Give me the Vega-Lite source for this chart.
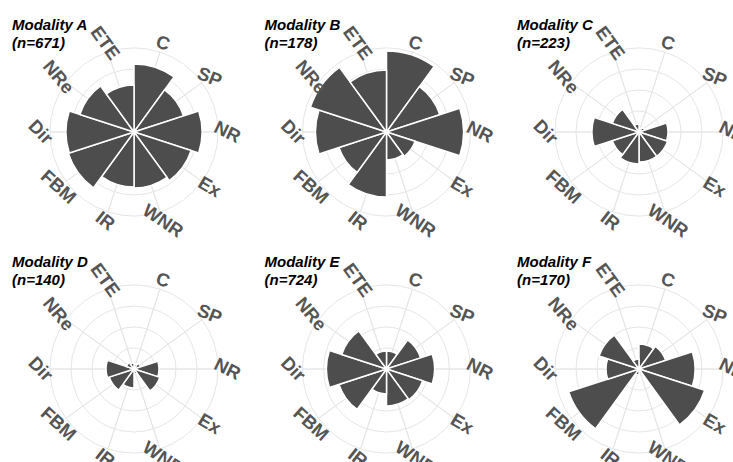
{
  "$schema": "https://vega.github.io/schema/vega-lite/v6.json",
  "padding": {"left": 12, "top": 18, "right": 0, "bottom": 0},
  "background": "white",
  "datasets": {
    "bars": [
      {"mod": "A", "cat": "C", "v": 32.4}, {"mod": "A", "cat": "SP", "v": 24.8}, {"mod": "A", "cat": "NR", "v": 32.4}, {"mod": "A", "cat": "Ex", "v": 28.6}, {"mod": "A", "cat": "WNR", "v": 26.7},
      {"mod": "A", "cat": "IR", "v": 26.2}, {"mod": "A", "cat": "FBM", "v": 32.9}, {"mod": "A", "cat": "Dir", "v": 32.4}, {"mod": "A", "cat": "NRe", "v": 27.1}, {"mod": "A", "cat": "ETE", "v": 22.4},
      {"mod": "B", "cat": "C", "v": 38.6}, {"mod": "B", "cat": "SP", "v": 26.7}, {"mod": "B", "cat": "NR", "v": 36.7}, {"mod": "B", "cat": "Ex", "v": 14.3}, {"mod": "B", "cat": "WNR", "v": 13.3},
      {"mod": "B", "cat": "IR", "v": 31.0}, {"mod": "B", "cat": "FBM", "v": 23.8}, {"mod": "B", "cat": "Dir", "v": 33.8}, {"mod": "B", "cat": "NRe", "v": 38.1}, {"mod": "B", "cat": "ETE", "v": 29.5},
      {"mod": "C", "cat": "C", "v": 1.9}, {"mod": "C", "cat": "SP", "v": 2.9}, {"mod": "C", "cat": "NR", "v": 13.8}, {"mod": "C", "cat": "Ex", "v": 14.3}, {"mod": "C", "cat": "WNR", "v": 14.3},
      {"mod": "C", "cat": "IR", "v": 15.2}, {"mod": "C", "cat": "FBM", "v": 13.3}, {"mod": "C", "cat": "Dir", "v": 22.4}, {"mod": "C", "cat": "NRe", "v": 13.3}, {"mod": "C", "cat": "ETE", "v": 3.8},
      {"mod": "D", "cat": "C", "v": 2.4}, {"mod": "D", "cat": "SP", "v": 3.3}, {"mod": "D", "cat": "NR", "v": 11.9}, {"mod": "D", "cat": "Ex", "v": 12.9}, {"mod": "D", "cat": "WNR", "v": 2.4},
      {"mod": "D", "cat": "IR", "v": 9.0}, {"mod": "D", "cat": "FBM", "v": 12.4}, {"mod": "D", "cat": "Dir", "v": 13.3}, {"mod": "D", "cat": "NRe", "v": 3.8}, {"mod": "D", "cat": "ETE", "v": 2.9},
      {"mod": "E", "cat": "C", "v": 8.6}, {"mod": "E", "cat": "SP", "v": 17.1}, {"mod": "E", "cat": "NR", "v": 22.9}, {"mod": "E", "cat": "Ex", "v": 18.1}, {"mod": "E", "cat": "WNR", "v": 17.6},
      {"mod": "E", "cat": "IR", "v": 11.9}, {"mod": "E", "cat": "FBM", "v": 23.8}, {"mod": "E", "cat": "Dir", "v": 28.6}, {"mod": "E", "cat": "NRe", "v": 22.4}, {"mod": "E", "cat": "ETE", "v": 8.6},
      {"mod": "F", "cat": "C", "v": 11.9}, {"mod": "F", "cat": "SP", "v": 13.3}, {"mod": "F", "cat": "NR", "v": 26.7}, {"mod": "F", "cat": "Ex", "v": 32.9}, {"mod": "F", "cat": "WNR", "v": 1.4},
      {"mod": "F", "cat": "IR", "v": 2.9}, {"mod": "F", "cat": "FBM", "v": 35.2}, {"mod": "F", "cat": "Dir", "v": 15.7}, {"mod": "F", "cat": "NRe", "v": 20.0}, {"mod": "F", "cat": "ETE", "v": 4.8}
    ],
    "cats": [
      {"cat": "C"}, {"cat": "SP"}, {"cat": "NR"}, {"cat": "Ex"}, {"cat": "WNR"},
      {"cat": "IR"}, {"cat": "FBM"}, {"cat": "Dir"}, {"cat": "NRe"}, {"cat": "ETE"}
    ],
    "rings": [{"r": 10}, {"r": 20}, {"r": 30}]
  },
  "columns": 3,
  "bounds": "flush",
  "spacing": {"row": 69, "column": 84.5},
  "resolve": {"scale": {"theta": "independent", "radius": "independent", "angle": "independent"}},
  "concat": [
    {
      "width": 168, "height": 168,
      "title": {"text": ["Modality A", "(n=671)"], "offset": -28, "dx": -38},
      "resolve": {"scale": {"theta": "independent"}},
      "layer": [
        {"data": {"name": "rings"}, "mark": {"type": "arc", "filled": false, "stroke": "#e6e6e6", "strokeWidth": 1, "theta": 0, "theta2": 6.2832},
         "encoding": {"radius": {"field": "r", "type": "quantitative", "stack": null, "scale": {"type": "linear", "domain": [0, 40], "range": [0, 84], "zero": true, "nice": false}}}},
        {"data": {"name": "cats"}, "transform": [{"calculate": "indexof(['C','SP','NR','Ex','WNR','IR','FBM','Dir','NRe','ETE'], datum.cat)", "as": "ord"}, {"calculate": "1", "as": "w"}],
         "mark": {"type": "arc", "filled": false, "stroke": "#e6e6e6", "strokeWidth": 1},
         "encoding": {"theta": {"field": "w", "type": "quantitative", "stack": true, "scale": {"range": [0.31416, 6.59734]}}, "order": {"field": "ord", "type": "quantitative"}, "detail": {"field": "cat"},
                      "radius": {"datum": 40, "type": "quantitative", "scale": {"type": "linear", "domain": [0, 40], "range": [0, 84], "zero": true, "nice": false}}}},
        {"data": {"name": "bars"}, "transform": [{"filter": "datum.mod === 'A'"}, {"calculate": "indexof(['C','SP','NR','Ex','WNR','IR','FBM','Dir','NRe','ETE'], datum.cat)", "as": "ord"}, {"calculate": "1", "as": "w"}, {"stack": "w", "groupby": [], "sort": [{"field": "ord", "order": "ascending"}], "as": ["t0", "t1"]}],
         "mark": {"type": "arc", "fill": "#4d4d4d", "stroke": "white", "strokeWidth": 1.5},
         "encoding": {"theta": {"field": "t0", "type": "quantitative", "scale": {"domain": [0, 10], "range": [0, 6.2832]}}, "theta2": {"field": "t1"},
                      "radius": {"field": "v", "type": "quantitative", "stack": null, "scale": {"type": "linear", "domain": [0, 40], "range": [0, 84], "zero": true, "nice": false}}}},
        {"data": {"name": "cats"}, "transform": [{"calculate": "indexof(['C','SP','NR','Ex','WNR','IR','FBM','Dir','NRe','ETE'], datum.cat)", "as": "ord"}, {"calculate": "1", "as": "w"}],
         "mark": {"type": "text", "font": "Liberation Sans", "fontSize": 18.5, "fontWeight": "bold", "fill": "#555555", "align": "center", "baseline": "middle"},
         "encoding": {"theta": {"field": "w", "type": "quantitative", "stack": true}, "order": {"field": "ord", "type": "quantitative"}, "detail": {"field": "cat"},
                      "radius": {"datum": 44.5, "type": "quantitative", "scale": {"type": "linear", "domain": [0, 40], "range": [0, 84], "zero": true, "nice": false}},
                      "text": {"field": "cat"},
                      "angle": {"field": "cat", "type": "nominal", "legend": null, "scale": {"domain": ["C","SP","NR","Ex","WNR","IR","FBM","Dir","NRe","ETE"], "range": [18,54,90,126,162,198,234,270,306,342]}}}}
      ]
    },
    {
      "width": 168, "height": 168,
      "title": {"text": ["Modality B", "(n=178)"], "offset": -28, "dx": -38},
      "resolve": {"scale": {"theta": "independent"}},
      "layer": [
        {"data": {"name": "rings"}, "mark": {"type": "arc", "filled": false, "stroke": "#e6e6e6", "strokeWidth": 1, "theta": 0, "theta2": 6.2832},
         "encoding": {"radius": {"field": "r", "type": "quantitative", "stack": null, "scale": {"type": "linear", "domain": [0, 40], "range": [0, 84], "zero": true, "nice": false}}}},
        {"data": {"name": "cats"}, "transform": [{"calculate": "indexof(['C','SP','NR','Ex','WNR','IR','FBM','Dir','NRe','ETE'], datum.cat)", "as": "ord"}, {"calculate": "1", "as": "w"}],
         "mark": {"type": "arc", "filled": false, "stroke": "#e6e6e6", "strokeWidth": 1},
         "encoding": {"theta": {"field": "w", "type": "quantitative", "stack": true, "scale": {"range": [0.31416, 6.59734]}}, "order": {"field": "ord", "type": "quantitative"}, "detail": {"field": "cat"},
                      "radius": {"datum": 40, "type": "quantitative", "scale": {"type": "linear", "domain": [0, 40], "range": [0, 84], "zero": true, "nice": false}}}},
        {"data": {"name": "bars"}, "transform": [{"filter": "datum.mod === 'B'"}, {"calculate": "indexof(['C','SP','NR','Ex','WNR','IR','FBM','Dir','NRe','ETE'], datum.cat)", "as": "ord"}, {"calculate": "1", "as": "w"}, {"stack": "w", "groupby": [], "sort": [{"field": "ord", "order": "ascending"}], "as": ["t0", "t1"]}],
         "mark": {"type": "arc", "fill": "#4d4d4d", "stroke": "white", "strokeWidth": 1.5},
         "encoding": {"theta": {"field": "t0", "type": "quantitative", "scale": {"domain": [0, 10], "range": [0, 6.2832]}}, "theta2": {"field": "t1"},
                      "radius": {"field": "v", "type": "quantitative", "stack": null, "scale": {"type": "linear", "domain": [0, 40], "range": [0, 84], "zero": true, "nice": false}}}},
        {"data": {"name": "cats"}, "transform": [{"calculate": "indexof(['C','SP','NR','Ex','WNR','IR','FBM','Dir','NRe','ETE'], datum.cat)", "as": "ord"}, {"calculate": "1", "as": "w"}],
         "mark": {"type": "text", "font": "Liberation Sans", "fontSize": 18.5, "fontWeight": "bold", "fill": "#555555", "align": "center", "baseline": "middle"},
         "encoding": {"theta": {"field": "w", "type": "quantitative", "stack": true}, "order": {"field": "ord", "type": "quantitative"}, "detail": {"field": "cat"},
                      "radius": {"datum": 44.5, "type": "quantitative", "scale": {"type": "linear", "domain": [0, 40], "range": [0, 84], "zero": true, "nice": false}},
                      "text": {"field": "cat"},
                      "angle": {"field": "cat", "type": "nominal", "legend": null, "scale": {"domain": ["C","SP","NR","Ex","WNR","IR","FBM","Dir","NRe","ETE"], "range": [18,54,90,126,162,198,234,270,306,342]}}}}
      ]
    },
    {
      "width": 168, "height": 168,
      "title": {"text": ["Modality C", "(n=223)"], "offset": -28, "dx": -38},
      "resolve": {"scale": {"theta": "independent"}},
      "layer": [
        {"data": {"name": "rings"}, "mark": {"type": "arc", "filled": false, "stroke": "#e6e6e6", "strokeWidth": 1, "theta": 0, "theta2": 6.2832},
         "encoding": {"radius": {"field": "r", "type": "quantitative", "stack": null, "scale": {"type": "linear", "domain": [0, 40], "range": [0, 84], "zero": true, "nice": false}}}},
        {"data": {"name": "cats"}, "transform": [{"calculate": "indexof(['C','SP','NR','Ex','WNR','IR','FBM','Dir','NRe','ETE'], datum.cat)", "as": "ord"}, {"calculate": "1", "as": "w"}],
         "mark": {"type": "arc", "filled": false, "stroke": "#e6e6e6", "strokeWidth": 1},
         "encoding": {"theta": {"field": "w", "type": "quantitative", "stack": true, "scale": {"range": [0.31416, 6.59734]}}, "order": {"field": "ord", "type": "quantitative"}, "detail": {"field": "cat"},
                      "radius": {"datum": 40, "type": "quantitative", "scale": {"type": "linear", "domain": [0, 40], "range": [0, 84], "zero": true, "nice": false}}}},
        {"data": {"name": "bars"}, "transform": [{"filter": "datum.mod === 'C'"}, {"calculate": "indexof(['C','SP','NR','Ex','WNR','IR','FBM','Dir','NRe','ETE'], datum.cat)", "as": "ord"}, {"calculate": "1", "as": "w"}, {"stack": "w", "groupby": [], "sort": [{"field": "ord", "order": "ascending"}], "as": ["t0", "t1"]}],
         "mark": {"type": "arc", "fill": "#4d4d4d", "stroke": "white", "strokeWidth": 1.5},
         "encoding": {"theta": {"field": "t0", "type": "quantitative", "scale": {"domain": [0, 10], "range": [0, 6.2832]}}, "theta2": {"field": "t1"},
                      "radius": {"field": "v", "type": "quantitative", "stack": null, "scale": {"type": "linear", "domain": [0, 40], "range": [0, 84], "zero": true, "nice": false}}}},
        {"data": {"name": "cats"}, "transform": [{"calculate": "indexof(['C','SP','NR','Ex','WNR','IR','FBM','Dir','NRe','ETE'], datum.cat)", "as": "ord"}, {"calculate": "1", "as": "w"}],
         "mark": {"type": "text", "font": "Liberation Sans", "fontSize": 18.5, "fontWeight": "bold", "fill": "#555555", "align": "center", "baseline": "middle"},
         "encoding": {"theta": {"field": "w", "type": "quantitative", "stack": true}, "order": {"field": "ord", "type": "quantitative"}, "detail": {"field": "cat"},
                      "radius": {"datum": 44.5, "type": "quantitative", "scale": {"type": "linear", "domain": [0, 40], "range": [0, 84], "zero": true, "nice": false}},
                      "text": {"field": "cat"},
                      "angle": {"field": "cat", "type": "nominal", "legend": null, "scale": {"domain": ["C","SP","NR","Ex","WNR","IR","FBM","Dir","NRe","ETE"], "range": [18,54,90,126,162,198,234,270,306,342]}}}}
      ]
    },
    {
      "width": 168, "height": 168,
      "title": {"text": ["Modality D", "(n=140)"], "offset": -28, "dx": -38},
      "resolve": {"scale": {"theta": "independent"}},
      "layer": [
        {"data": {"name": "rings"}, "mark": {"type": "arc", "filled": false, "stroke": "#e6e6e6", "strokeWidth": 1, "theta": 0, "theta2": 6.2832},
         "encoding": {"radius": {"field": "r", "type": "quantitative", "stack": null, "scale": {"type": "linear", "domain": [0, 40], "range": [0, 84], "zero": true, "nice": false}}}},
        {"data": {"name": "cats"}, "transform": [{"calculate": "indexof(['C','SP','NR','Ex','WNR','IR','FBM','Dir','NRe','ETE'], datum.cat)", "as": "ord"}, {"calculate": "1", "as": "w"}],
         "mark": {"type": "arc", "filled": false, "stroke": "#e6e6e6", "strokeWidth": 1},
         "encoding": {"theta": {"field": "w", "type": "quantitative", "stack": true, "scale": {"range": [0.31416, 6.59734]}}, "order": {"field": "ord", "type": "quantitative"}, "detail": {"field": "cat"},
                      "radius": {"datum": 40, "type": "quantitative", "scale": {"type": "linear", "domain": [0, 40], "range": [0, 84], "zero": true, "nice": false}}}},
        {"data": {"name": "bars"}, "transform": [{"filter": "datum.mod === 'D'"}, {"calculate": "indexof(['C','SP','NR','Ex','WNR','IR','FBM','Dir','NRe','ETE'], datum.cat)", "as": "ord"}, {"calculate": "1", "as": "w"}, {"stack": "w", "groupby": [], "sort": [{"field": "ord", "order": "ascending"}], "as": ["t0", "t1"]}],
         "mark": {"type": "arc", "fill": "#4d4d4d", "stroke": "white", "strokeWidth": 1.5},
         "encoding": {"theta": {"field": "t0", "type": "quantitative", "scale": {"domain": [0, 10], "range": [0, 6.2832]}}, "theta2": {"field": "t1"},
                      "radius": {"field": "v", "type": "quantitative", "stack": null, "scale": {"type": "linear", "domain": [0, 40], "range": [0, 84], "zero": true, "nice": false}}}},
        {"data": {"name": "cats"}, "transform": [{"calculate": "indexof(['C','SP','NR','Ex','WNR','IR','FBM','Dir','NRe','ETE'], datum.cat)", "as": "ord"}, {"calculate": "1", "as": "w"}],
         "mark": {"type": "text", "font": "Liberation Sans", "fontSize": 18.5, "fontWeight": "bold", "fill": "#555555", "align": "center", "baseline": "middle"},
         "encoding": {"theta": {"field": "w", "type": "quantitative", "stack": true}, "order": {"field": "ord", "type": "quantitative"}, "detail": {"field": "cat"},
                      "radius": {"datum": 44.5, "type": "quantitative", "scale": {"type": "linear", "domain": [0, 40], "range": [0, 84], "zero": true, "nice": false}},
                      "text": {"field": "cat"},
                      "angle": {"field": "cat", "type": "nominal", "legend": null, "scale": {"domain": ["C","SP","NR","Ex","WNR","IR","FBM","Dir","NRe","ETE"], "range": [18,54,90,126,162,198,234,270,306,342]}}}}
      ]
    },
    {
      "width": 168, "height": 168,
      "title": {"text": ["Modality E", "(n=724)"], "offset": -28, "dx": -38},
      "resolve": {"scale": {"theta": "independent"}},
      "layer": [
        {"data": {"name": "rings"}, "mark": {"type": "arc", "filled": false, "stroke": "#e6e6e6", "strokeWidth": 1, "theta": 0, "theta2": 6.2832},
         "encoding": {"radius": {"field": "r", "type": "quantitative", "stack": null, "scale": {"type": "linear", "domain": [0, 40], "range": [0, 84], "zero": true, "nice": false}}}},
        {"data": {"name": "cats"}, "transform": [{"calculate": "indexof(['C','SP','NR','Ex','WNR','IR','FBM','Dir','NRe','ETE'], datum.cat)", "as": "ord"}, {"calculate": "1", "as": "w"}],
         "mark": {"type": "arc", "filled": false, "stroke": "#e6e6e6", "strokeWidth": 1},
         "encoding": {"theta": {"field": "w", "type": "quantitative", "stack": true, "scale": {"range": [0.31416, 6.59734]}}, "order": {"field": "ord", "type": "quantitative"}, "detail": {"field": "cat"},
                      "radius": {"datum": 40, "type": "quantitative", "scale": {"type": "linear", "domain": [0, 40], "range": [0, 84], "zero": true, "nice": false}}}},
        {"data": {"name": "bars"}, "transform": [{"filter": "datum.mod === 'E'"}, {"calculate": "indexof(['C','SP','NR','Ex','WNR','IR','FBM','Dir','NRe','ETE'], datum.cat)", "as": "ord"}, {"calculate": "1", "as": "w"}, {"stack": "w", "groupby": [], "sort": [{"field": "ord", "order": "ascending"}], "as": ["t0", "t1"]}],
         "mark": {"type": "arc", "fill": "#4d4d4d", "stroke": "white", "strokeWidth": 1.5},
         "encoding": {"theta": {"field": "t0", "type": "quantitative", "scale": {"domain": [0, 10], "range": [0, 6.2832]}}, "theta2": {"field": "t1"},
                      "radius": {"field": "v", "type": "quantitative", "stack": null, "scale": {"type": "linear", "domain": [0, 40], "range": [0, 84], "zero": true, "nice": false}}}},
        {"data": {"name": "cats"}, "transform": [{"calculate": "indexof(['C','SP','NR','Ex','WNR','IR','FBM','Dir','NRe','ETE'], datum.cat)", "as": "ord"}, {"calculate": "1", "as": "w"}],
         "mark": {"type": "text", "font": "Liberation Sans", "fontSize": 18.5, "fontWeight": "bold", "fill": "#555555", "align": "center", "baseline": "middle"},
         "encoding": {"theta": {"field": "w", "type": "quantitative", "stack": true}, "order": {"field": "ord", "type": "quantitative"}, "detail": {"field": "cat"},
                      "radius": {"datum": 44.5, "type": "quantitative", "scale": {"type": "linear", "domain": [0, 40], "range": [0, 84], "zero": true, "nice": false}},
                      "text": {"field": "cat"},
                      "angle": {"field": "cat", "type": "nominal", "legend": null, "scale": {"domain": ["C","SP","NR","Ex","WNR","IR","FBM","Dir","NRe","ETE"], "range": [18,54,90,126,162,198,234,270,306,342]}}}}
      ]
    },
    {
      "width": 168, "height": 168,
      "title": {"text": ["Modality F", "(n=170)"], "offset": -28, "dx": -38},
      "resolve": {"scale": {"theta": "independent"}},
      "layer": [
        {"data": {"name": "rings"}, "mark": {"type": "arc", "filled": false, "stroke": "#e6e6e6", "strokeWidth": 1, "theta": 0, "theta2": 6.2832},
         "encoding": {"radius": {"field": "r", "type": "quantitative", "stack": null, "scale": {"type": "linear", "domain": [0, 40], "range": [0, 84], "zero": true, "nice": false}}}},
        {"data": {"name": "cats"}, "transform": [{"calculate": "indexof(['C','SP','NR','Ex','WNR','IR','FBM','Dir','NRe','ETE'], datum.cat)", "as": "ord"}, {"calculate": "1", "as": "w"}],
         "mark": {"type": "arc", "filled": false, "stroke": "#e6e6e6", "strokeWidth": 1},
         "encoding": {"theta": {"field": "w", "type": "quantitative", "stack": true, "scale": {"range": [0.31416, 6.59734]}}, "order": {"field": "ord", "type": "quantitative"}, "detail": {"field": "cat"},
                      "radius": {"datum": 40, "type": "quantitative", "scale": {"type": "linear", "domain": [0, 40], "range": [0, 84], "zero": true, "nice": false}}}},
        {"data": {"name": "bars"}, "transform": [{"filter": "datum.mod === 'F'"}, {"calculate": "indexof(['C','SP','NR','Ex','WNR','IR','FBM','Dir','NRe','ETE'], datum.cat)", "as": "ord"}, {"calculate": "1", "as": "w"}, {"stack": "w", "groupby": [], "sort": [{"field": "ord", "order": "ascending"}], "as": ["t0", "t1"]}],
         "mark": {"type": "arc", "fill": "#4d4d4d", "stroke": "white", "strokeWidth": 1.5},
         "encoding": {"theta": {"field": "t0", "type": "quantitative", "scale": {"domain": [0, 10], "range": [0, 6.2832]}}, "theta2": {"field": "t1"},
                      "radius": {"field": "v", "type": "quantitative", "stack": null, "scale": {"type": "linear", "domain": [0, 40], "range": [0, 84], "zero": true, "nice": false}}}},
        {"data": {"name": "cats"}, "transform": [{"calculate": "indexof(['C','SP','NR','Ex','WNR','IR','FBM','Dir','NRe','ETE'], datum.cat)", "as": "ord"}, {"calculate": "1", "as": "w"}],
         "mark": {"type": "text", "font": "Liberation Sans", "fontSize": 18.5, "fontWeight": "bold", "fill": "#555555", "align": "center", "baseline": "middle"},
         "encoding": {"theta": {"field": "w", "type": "quantitative", "stack": true}, "order": {"field": "ord", "type": "quantitative"}, "detail": {"field": "cat"},
                      "radius": {"datum": 44.5, "type": "quantitative", "scale": {"type": "linear", "domain": [0, 40], "range": [0, 84], "zero": true, "nice": false}},
                      "text": {"field": "cat"},
                      "angle": {"field": "cat", "type": "nominal", "legend": null, "scale": {"domain": ["C","SP","NR","Ex","WNR","IR","FBM","Dir","NRe","ETE"], "range": [18,54,90,126,162,198,234,270,306,342]}}}}
      ]
    }
  ],
  "config": {
    "view": {"stroke": null},
    "title": {"font": "Liberation Sans", "fontSize": 15, "fontWeight": "bold", "fontStyle": "italic", "color": "#000000", "anchor": "start", "frame": "group", "lineHeight": 18, "baseline": "bottom"}
  }
}
